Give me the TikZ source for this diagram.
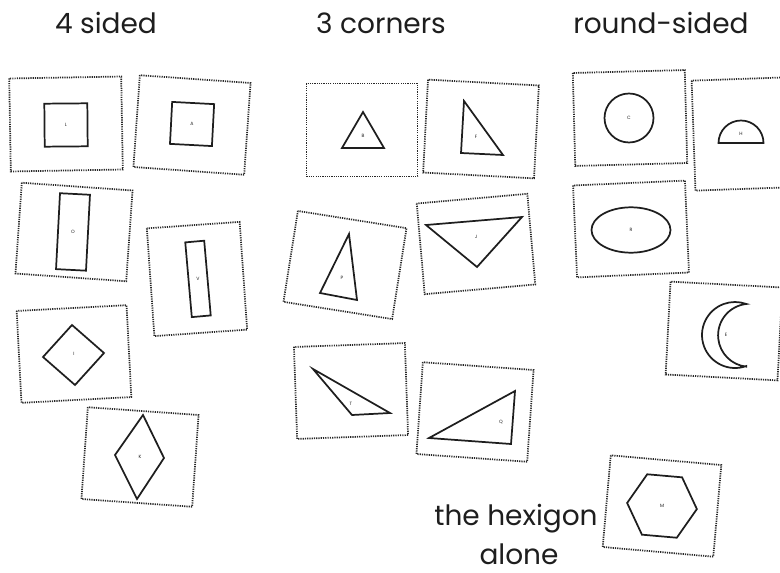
\documentclass[tikz,border=0pt]{standalone}
\usepackage{fontspec}
\setmainfont{Poppins}
\usepackage{tikz}
\definecolor{DotGray}{RGB}{40,40,40}
\definecolor{InkBlack}{RGB}{30,30,30}

\begin{document}
\begin{tikzpicture}[
  x=0.75pt, y=-0.75pt,
  card/.style={draw=DotGray, line width=1.3pt, dash pattern=on 0.9pt off 0.8pt},
  outline/.style={draw=InkBlack, line width=1.3pt, line join=miter},
  tag/.style={font=\fontsize{3.5}{4}\selectfont, text=InkBlack, inner sep=0pt},
  heading/.style={font=\fontsize{21}{24}\selectfont, text=InkBlack, anchor=base, inner sep=0pt}
]
\clip (0,0) rectangle (780,573);

% column titles
\node[heading] (foursided) at (106,34) {4 sided};
\node[heading] (threecorners) at (381,34) {3 corners};
\node[heading] (roundsided) at (661,34) {round-sided};

% 4 sided
\begin{scope}[shift={(66,124)}]
  \draw[card, rotate=1] (-56,-46.5) rectangle (56,46.5);
  \draw[outline, rotate=0.5] (-21.5,-20.5) rectangle (21.5,22.5);
  \node[tag] (sqL) at (0,1) {L};
\end{scope}
\begin{scope}[shift={(192,125)}]
  \draw[card, rotate=-4] (-55.5,-46) rectangle (55.5,46);
  \draw[outline, rotate=-3] (-21,-22) rectangle (21,20);
  \node[tag] (sqA) at (0,-1) {A};
\end{scope}
\begin{scope}[shift={(74,232)}]
  \draw[card, rotate=-4] (-55.5,-45.5) rectangle (55.5,45.5);
  \draw[outline, rotate=-3] (-16,-38) rectangle (14,38);
  \node[tag] (rectO) at (-1,0) {O};
\end{scope}
\begin{scope}[shift={(197,279)}]
  \draw[card, rotate=4] (-46.5,-54) rectangle (46.5,54);
  \draw[outline, rotate=5] (-8.5,-37.5) rectangle (10.5,37.5);
  \node[tag] (rectV) at (1,0) {V};
\end{scope}
\begin{scope}[shift={(74,354)}]
  \draw[card, rotate=3] (-55,-46) rectangle (55,46);
  \draw[outline] (-2,-29) -- (30,-1) -- (1,31) -- (-31,3) -- cycle;
  \node[tag] (diaI) at (0,0) {I};
\end{scope}
\begin{scope}[shift={(140,457)}]
  \draw[card, rotate=-4] (-55.5,-46) rectangle (55.5,46);
  \draw[outline] (3,-42) -- (24,1) -- (-3,42) -- (-25,-2) -- cycle;
  \node[tag] (rhoK) at (0,0) {K};
\end{scope}

% 3 corners
\begin{scope}[shift={(362,130)}]
  \draw[card] (-55.5,-46.5) rectangle (55.5,46.5);
  \draw[outline] (1,-18) -- (-20,18) -- (22,18) -- cycle;
  \node[tag] (triB) at (1,6) {B};
\end{scope}
\begin{scope}[shift={(481,129)}]
  \draw[card, rotate=-3] (-55.5,-46.5) rectangle (55.5,46.5);
  \draw[outline] (-17,-28) -- (-20,24) -- (22,26) -- cycle;
  \node[tag] (triF) at (-5,8) {F};
\end{scope}
\begin{scope}[shift={(345,265)}]
  \draw[card, rotate=-9] (-55,-46) rectangle (55,46);
  \draw[outline] (4,-31) -- (-25,28) -- (12,35) -- cycle;
  \node[tag] (triP) at (-3,13) {P};
\end{scope}
\begin{scope}[shift={(476,244)}]
  \draw[card, rotate=5] (-55.5,-45.5) rectangle (55.5,45.5);
  \draw[outline] (-50,-19) -- (46,-27) -- (1,23) -- cycle;
  \node[tag] (triJ) at (0,-7) {J};
\end{scope}
\begin{scope}[shift={(351,391)}]
  \draw[card, rotate=2] (-55.5,-46) rectangle (55.5,46);
  \draw[outline] (-38,-22) -- (39,22) -- (1,24) -- cycle;
  \node[tag] (triT) at (0,13) {T};
\end{scope}
\begin{scope}[shift={(475,412)}]
  \draw[card, rotate=-4] (-55.5,-46) rectangle (55.5,46);
  \draw[outline] (-46,26) -- (40,-21) -- (36,32) -- cycle;
  \node[tag] (triQ) at (26,10) {Q};
\end{scope}

% round-sided
\begin{scope}[shift={(630,118)}]
  \draw[card, rotate=1.5] (-56,-46.5) rectangle (56,46.5);
  \draw[outline] (-1,0) circle[radius=24.5];
  \node[tag] (cirC) at (-1,0) {C};
\end{scope}
\begin{scope}[shift={(740,134)}]
  \draw[card, rotate=2] (-46.5,-55) rectangle (46.5,55);
  \draw[outline] (-21.5,9) arc[start angle=180, end angle=360, radius=22.5] -- cycle;
  \node[tag] (semH) at (1,0) {H};
\end{scope}
\begin{scope}[shift={(631,229)}]
  \draw[card, rotate=2.5] (-56,-46) rectangle (56,46);
  \draw[outline] (0,1) ellipse[x radius=39.5, y radius=22.7];
  \node[tag] (ellR) at (0,1) {R};
\end{scope}
\begin{scope}[shift={(724,331)}]
  \draw[card, rotate=-3] (-56,-46.5) rectangle (56,46.5);
  \begin{scope}[shift={(11,4)}]
    \draw[outline] (70:33) arc[start angle=70, end angle=290, radius=33]
      arc[start angle=264, end angle=96, radius=31.5] -- cycle;
    \node[tag] (creE) at (-9,0) {E};
  \end{scope}
\end{scope}
\begin{scope}[shift={(662,506)}]
  \draw[card, rotate=-5] (-55.5,-46) rectangle (55.5,46);
  \draw[outline, rotate=-5] (0:35) \foreach \a in {60,120,...,300} { -- (\a:35) } -- cycle;
  \node[tag] (hexM) at (0,0) {M};
\end{scope}

% note
\node[heading] (hexnote) at (516,525) {the hexigon};
\node[heading] (alonenote) at (519,564) {alone};
\end{tikzpicture}
\end{document}
